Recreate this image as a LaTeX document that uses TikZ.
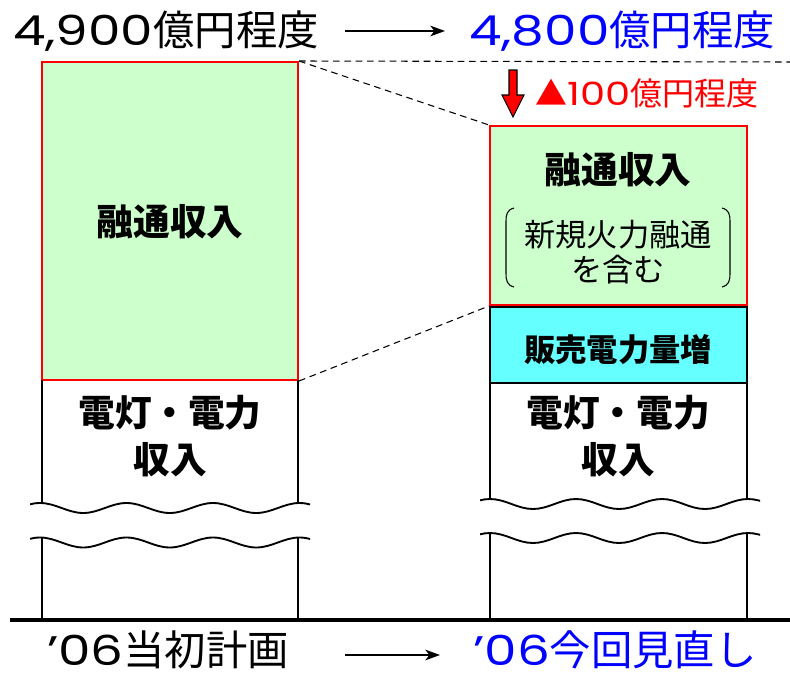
\documentclass[tikz,border=0pt]{standalone}
\usepackage{fontspec}
\setmainfont{Noto Sans CJK JP}
\newfontfamily\lat[FakeStretch=1.25]{Poppins}
\usetikzlibrary{arrows.meta,fit}
\definecolor{lgreen}{HTML}{CCFFCC}
\definecolor{lcyan}{HTML}{66FFFF}
\definecolor{pblue}{HTML}{0000FF}
\definecolor{pred}{HTML}{FF0000}
\tikzset{
  greenbox/.style={draw=pred, line width=1.5pt, fill=lgreen, inner sep=0pt},
  cyanbox/.style={draw=black, line width=1.1pt, fill=lcyan, inner sep=0pt},
  bigtxt/.style={inner sep=0pt, font=\fontsize{31pt}{36pt}\selectfont},
  boxtxt/.style={inner sep=0pt, font=\fontsize{27.5pt}{32pt}\selectfont\bfseries},
  cyantxt/.style={inner sep=0pt, font=\fontsize{23.5pt}{28pt}\selectfont\bfseries},
  smalltxt/.style={inner sep=0pt, font=\fontsize{23.5pt}{28pt}\selectfont},
  dashline/.style={dash pattern=on 5pt off 3.5pt, line width=0.8pt},
  edgeline/.style={line width=1.1pt},
  flowarrow/.style={line width=1pt, -{Stealth[length=11pt,width=8pt,inset=3pt]}},
  wavy/.style={line width=1.4pt, draw=black}
}
\newcommand{\wavepath}[3]{% start x (peak), center y, period
  \draw[wavy] (#1,#2-5)
  \foreach \k in {0,...,4}{
    cos ({#1+#3*\k+#3/4},#2) sin ({#1+#3*\k+#3/2},#2+5)
    cos ({#1+#3*\k+3*#3/4},#2) sin ({#1+#3*(\k+1)},#2-5)
  };}
\begin{document}
\begin{tikzpicture}[x=0.75pt,y=-0.75pt]
\useasboundingbox (0,0) rectangle (790,682);
% boxes
\node[greenbox, fit={(42,62) (298,380)}] (lg) {};
\node[greenbox, fit={(490,126) (747,305)}] (rg) {};
\node[cyanbox, fit={(490,307) (747,383)}] (cy) {};
% vertical edges of white parts
\draw[edgeline] (42,380) -- (42,503);
\draw[edgeline] (298,380) -- (298,503);
\draw[edgeline] (42,538) -- (42,620);
\draw[edgeline] (298,538) -- (298,620);
\draw[edgeline] (490,383) -- (490,499);
\draw[edgeline] (747,383) -- (747,499);
\draw[edgeline] (490,533) -- (490,620);
\draw[edgeline] (747,533) -- (747,620);
% waves
\begin{scope}
\clip (30,400) rectangle (310,600);
\wavepath{-46.5}{508}{86.5}
\wavepath{-46.5}{542.5}{86.5}
\end{scope}
\begin{scope}
\clip (480,400) rectangle (760,600);
\wavepath{404}{504}{86}
\wavepath{404}{538}{86}
\end{scope}
% baseline
\draw[line width=2.3pt] (10,620) -- (790,620);
% dashed lines
\coordinate (dr) at (790,62);
\draw[dashline] (lg.north east) -- (dr);
\draw[dashline] (lg.north east) -- (rg.north west);
\draw[dashline] (lg.south east) -- (rg.south west);
% top texts
\node[bigtxt] (t1) at (166,31) {{\lat 4,900}億円程度};
\node[bigtxt, text=pblue] (t2) at (622,31) {{\lat 4,800}億円程度};
\coordinate (ta1) at (345,31);
\coordinate (ta2) at (445,31);
\draw[flowarrow] (ta1) -- (ta2);
% red down arrow
\draw[fill=pred, draw=black, line width=0.8pt, line join=miter]
  (509,70) -- (517,70) -- (517,95) -- (524,95) -- (513,117) -- (502,95) -- (509,95) -- cycle;
\node[inner sep=0pt, font=\fontsize{24pt}{28pt}\selectfont, text=pred] (dec) at (647,93) {▲{\lat 100}億円程度};
% box labels
\node[boxtxt] (lgt) at (170,222) {融通収入};
\node[boxtxt] (rgt) at (618,170) {融通収入};
\node[smalltxt] (n1) at (618,235) {新規火力融通};
\node[smalltxt] (n2) at (618,270) {を含む};
\draw[line width=0.8pt] (514,208) .. controls (507,210) and (506,214) .. (506,222) -- (506,273) .. controls (506,281) and (507,285) .. (514,287);
\draw[line width=0.8pt] (722,208) .. controls (729,210) and (730,214) .. (730,222) -- (730,273) .. controls (730,281) and (729,285) .. (722,287);
\node[cyantxt] (cyt) at (618,350) {販売電力量増};
\node[boxtxt] (lw1) at (170,413) {電灯・電力};
\node[boxtxt] (lw2) at (170,460) {収入};
\node[boxtxt] (rw1) at (618,413) {電灯・電力};
\node[boxtxt] (rw2) at (618,460) {収入};
% bottom texts
\node[bigtxt] (b1) at (168,650) {{\lat ’06}当初計画};
\node[bigtxt, text=pblue] (b2) at (615,650) {{\lat ’06}今回見直し};
\coordinate (ba1) at (345,655);
\coordinate (ba2) at (440,655);
\draw[flowarrow] (ba1) -- (ba2);
\end{tikzpicture}
\end{document}
